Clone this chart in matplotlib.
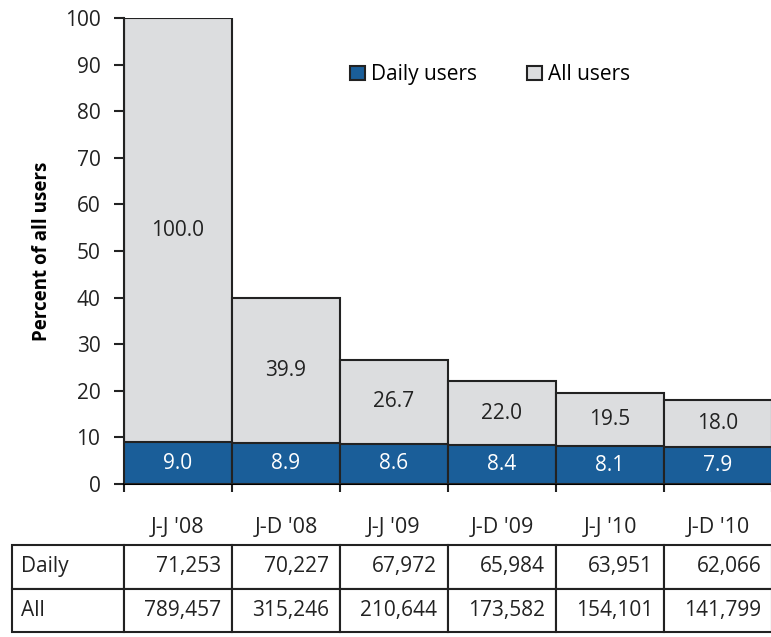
import matplotlib.pyplot as plt
import numpy as np

plt.rcParams['font.family'] = ['Open Sans', 'DejaVu Sans']

periods = ["J-J '08", "J-D '08", "J-J '09", "J-D '09", "J-J '10", "J-D '10"]
all_pct = [100.0, 39.9, 26.7, 22.0, 19.5, 18.0]
daily_pct = [9.0, 8.9, 8.6, 8.4, 8.1, 7.9]
daily_counts = [71253, 70227, 67972, 65984, 63951, 62066]
all_counts = [789457, 315246, 210644, 173582, 154101, 141799]

blue = '#1a5e99'
gray = '#dcdddf'
fs = 15

fig = plt.figure(figsize=(7.71, 6.37), dpi=100)
ax = fig.add_axes([124 / 771, 1 - 484 / 637, 648 / 771, 466 / 637])

x = np.arange(len(periods))
ax.bar(x, all_pct, width=1.0, color=gray, edgecolor='#222222', linewidth=1.5,
       label='All users', zorder=2)
ax.bar(x, daily_pct, width=1.0, color=blue, edgecolor='#222222', linewidth=1.5,
       label='Daily users', zorder=3)

for i in range(len(x)):
    ax.text(x[i], (all_pct[i] + daily_pct[i]) / 2, f'{all_pct[i]:.1f}',
            ha='center', va='center', fontsize=fs, color='#222222', zorder=4)
    ax.text(x[i], daily_pct[i] / 2, f'{daily_pct[i]:.1f}',
            ha='center', va='center', fontsize=fs, color='white', zorder=4)

ax.set_xlim(-0.5, len(x) - 0.5)
ax.set_ylim(0, 100)
ax.set_yticks(range(0, 101, 10))
ax.tick_params(axis='y', labelsize=fs, length=7, width=1.5, pad=10, colors='#222222')

# tick marks at bar edges, labels at bar centers
ax.set_xticks(np.arange(len(x) + 1) - 0.5)
ax.set_xticklabels([])
ax.tick_params(axis='x', which='major', length=6, width=1.5, direction='out', colors='#222222')
ax.set_xticks(x, minor=True)
ax.set_xticklabels(periods, minor=True)
ax.tick_params(axis='x', which='minor', length=0, pad=24, labelsize=15.5, labelcolor='#222222')

for s in ['top', 'right']:
    ax.spines[s].set_visible(False)
ax.spines['left'].set_linewidth(1.5)
ax.spines['bottom'].set_linewidth(1.5)
ax.spines['left'].set_color('#222222')

ax.set_ylabel('Percent of all users', fontsize=13.5, fontweight='bold', labelpad=9)

h, l = ax.get_legend_handles_labels()
ax.legend(h[::-1], l[::-1], ncol=2, frameon=False, fontsize=fs,
          loc='center', bbox_to_anchor=(0.565, 0.878), handlelength=0.7,
          handleheight=0.7, handletextpad=0.3, columnspacing=2.4)

# data table under the chart
cells = [['Daily'] + [f'{v:,}' for v in daily_counts],
         ['All'] + [f'{v:,}' for v in all_counts]]
col_w = [112] + [108] * len(x)
tbl = ax.table(cellText=cells, cellLoc='right', colWidths=[w / 760 for w in col_w],
               bbox=[(12 - 124) / 648, (484 - 632) / 466, 760 / 648, 87 / 466])
tbl.auto_set_font_size(False)
for (r, c), cell in tbl.get_celld().items():
    cell.set_linewidth(1.5)
    cell.set_edgecolor('#222222')
    cell.get_text().set_fontsize(fs)
    cell.get_text().set_color('#222222')
    if c == 0:
        cell.get_text().set_ha('left')
        cell.PAD = 0.08

fig.savefig('out.png', dpi=100)
